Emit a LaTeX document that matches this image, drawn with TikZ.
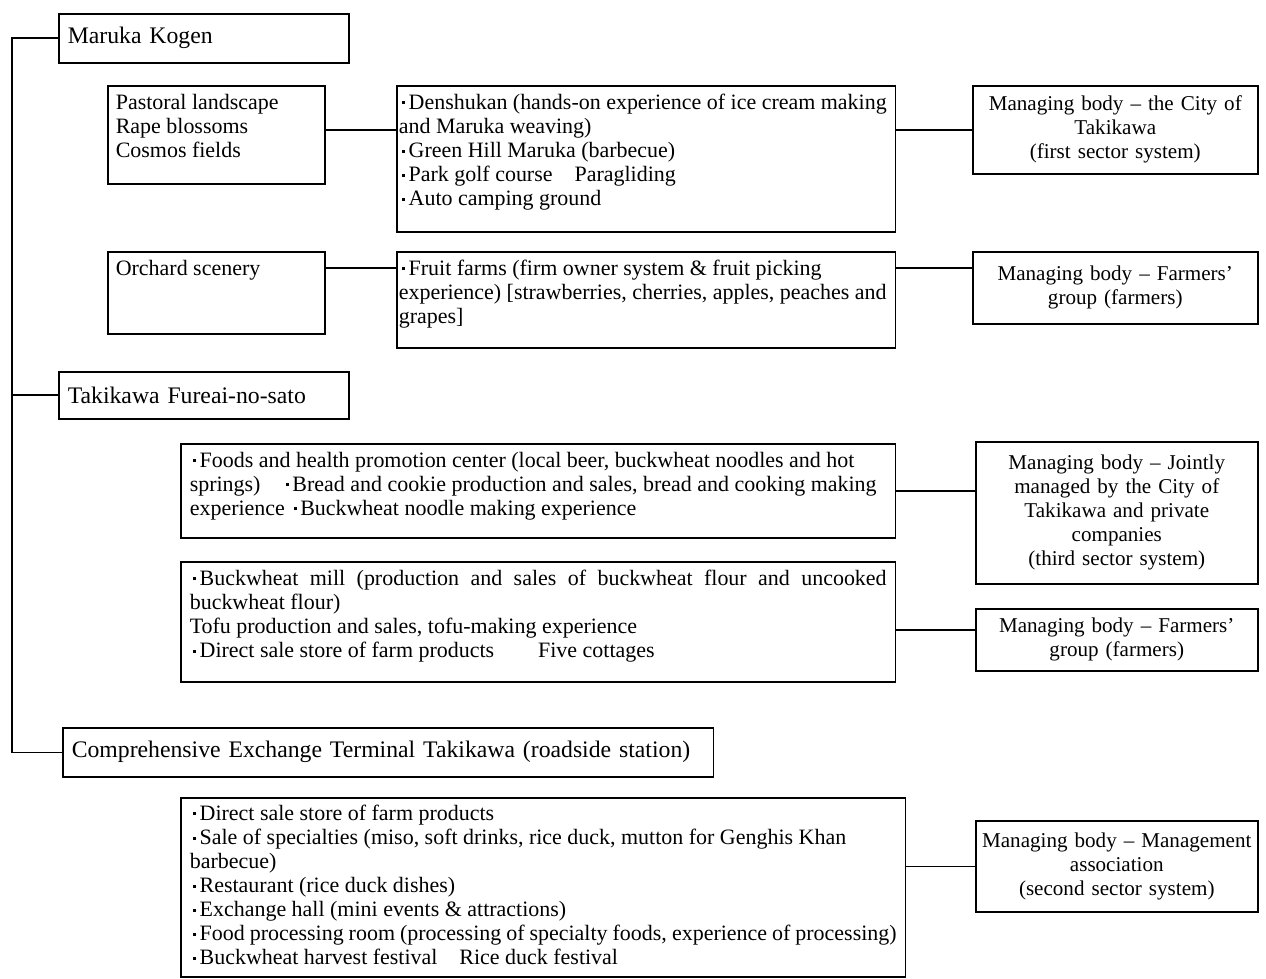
\documentclass[tikz,border=0pt]{standalone}
\usepackage{fontspec}
\setmainfont{Liberation Serif}
\usetikzlibrary{positioning}
\newcommand{\kdot}{\makebox[0.45em][c]{\raisebox{0.22em}{\rule{1.7pt}{1.7pt}}}}
\newcommand{\boxtext}[3]{\parbox[c][#2][t]{#1}{\raggedright #3}}

\begin{document}
\begin{tikzpicture}[x=0.02cm, y=-0.02cm, line width=0.9pt,
    font=\fontsize{12.5}{13.7}\selectfont,
    frame/.style={draw, line width=0.9pt, anchor=north west, inner ysep=0.16cm},
    site/.style={frame, inner xsep=0.18cm, inner ysep=0pt, text width=#1, align=left, font=\fontsize{13.5}{14}\selectfont},
    mgr/.style={frame, inner xsep=0.1cm, inner ysep=0pt, text width=#1, align=center, font=\fontsize{12}{13.7}\selectfont}]
\useasboundingbox (0,0) rectangle (1266,979);

% the three sites on the trunk
\node (maruka) [site=5.44cm, minimum height=0.98cm] at (58,13) {Maruka Kogen};
\node (fureai) [site=5.44cm, minimum height=0.94cm] at (58,371) {Takikawa Fureai-no-sato};
\node (terminal) [site=12.66cm, minimum height=0.98cm] at (62,727) {Comprehensive Exchange Terminal Takikawa (roadside station)};

% Maruka Kogen
\node (pastoral) [frame, inner xsep=0.16cm] at (107,85) {\boxtext{4.02cm}{1.64cm}{Pastoral landscape\\Rape blossoms\\Cosmos fields}};
\node (densh) [frame, inner xsep=0.04cm] at (396,85) {\boxtext{9.9cm}{2.6cm}{\kdot Denshukan (hands-on experience of ice cream making\\and Maruka weaving)\\\kdot Green Hill Maruka (barbecue)\\\kdot Park golf course\quad Paragliding\\\kdot Auto camping ground}};
\node (city) [mgr=5.5cm, minimum height=1.76cm] at (972,85) {Managing body – the City of\\Takikawa\\(first sector system)};
\node (orchard) [frame, inner xsep=0.16cm] at (107,251) {\boxtext{4.02cm}{1.32cm}{Orchard scenery}};
\node (fruit) [frame, inner xsep=0.04cm] at (396,251) {\boxtext{9.9cm}{1.6cm}{\kdot Fruit farms (firm owner system \& fruit picking\\experience) [strawberries, cherries, apples, peaches and\\grapes]}};
\node (farmers1) [mgr=5.5cm, minimum height=1.44cm] at (972,251) {Managing body – Farmers’\\group (farmers)};

% Takikawa Fureai-no-sato
\node (foods) [frame, inner xsep=0.18cm] at (180,443) {\boxtext{13.94cm}{1.56cm}{\kdot Foods and health promotion center (local beer, buckwheat noodles and hot\\springs)\quad\kdot Bread and cookie production and sales, bread and cooking making\\experience \kdot Buckwheat noodle making experience}};
\node (joint) [mgr=5.44cm, minimum height=2.84cm] at (975,441) {Managing body – Jointly\\managed by the City of\\Takikawa and private\\companies\\(third sector system)};
\node (mill) [frame, inner xsep=0.18cm] at (180,561) {\boxtext{13.94cm}{2.08cm}{\makebox[\linewidth][s]{\kdot Buckwheat mill (production and sales of buckwheat flour and uncooked}\\buckwheat flour)\\Tofu production and sales, tofu-making experience\\\kdot Direct sale store of farm products\qquad Five cottages}};
\node (farmers2) [mgr=5.44cm, minimum height=1.24cm] at (975,608) {Managing body – Farmers’\\group (farmers)};

% roadside station
\node (station) [frame, inner xsep=0.18cm, inner ysep=0.14cm] at (180,797) {\boxtext{14.14cm}{3.3cm}{\kdot Direct sale store of farm products\\\kdot Sale of specialties (miso, soft drinks, rice duck, mutton for Genghis Khan\\barbecue)\\\kdot Restaurant (rice duck dishes)\\\kdot Exchange hall (mini events \& attractions)\\\kdot Food processing room (processing of specialty foods, experience of processing)\\\kdot Buckwheat harvest festival\quad Rice duck festival}};
\node (assoc) [mgr=5.44cm, minimum height=1.82cm] at (975,820) {Managing body – Management\\association\\(second sector system)};

% trunk and links
\coordinate (trunk) at (12,0);
\draw (maruka.west) -- (maruka.west -| trunk) -- (terminal.west -| trunk) -- (terminal.west);
\draw (fureai.west) -- (fureai.west -| trunk);
\draw (pastoral.east |- city.west) -- (densh.west |- city.west);
\draw (densh.east |- city.west) -- (city.west);
\draw (orchard.east |- 0,268) -- (fruit.west |- 0,268);
\draw (fruit.east |- 0,268) -- (farmers1.west |- 0,268);
\draw (foods.east) -- (foods.east -| joint.west);
\draw (mill.east |- 0,630) -- (farmers2.west |- 0,630);
\draw (station.east |- assoc.west) -- (assoc.west);
\end{tikzpicture}
\end{document}
